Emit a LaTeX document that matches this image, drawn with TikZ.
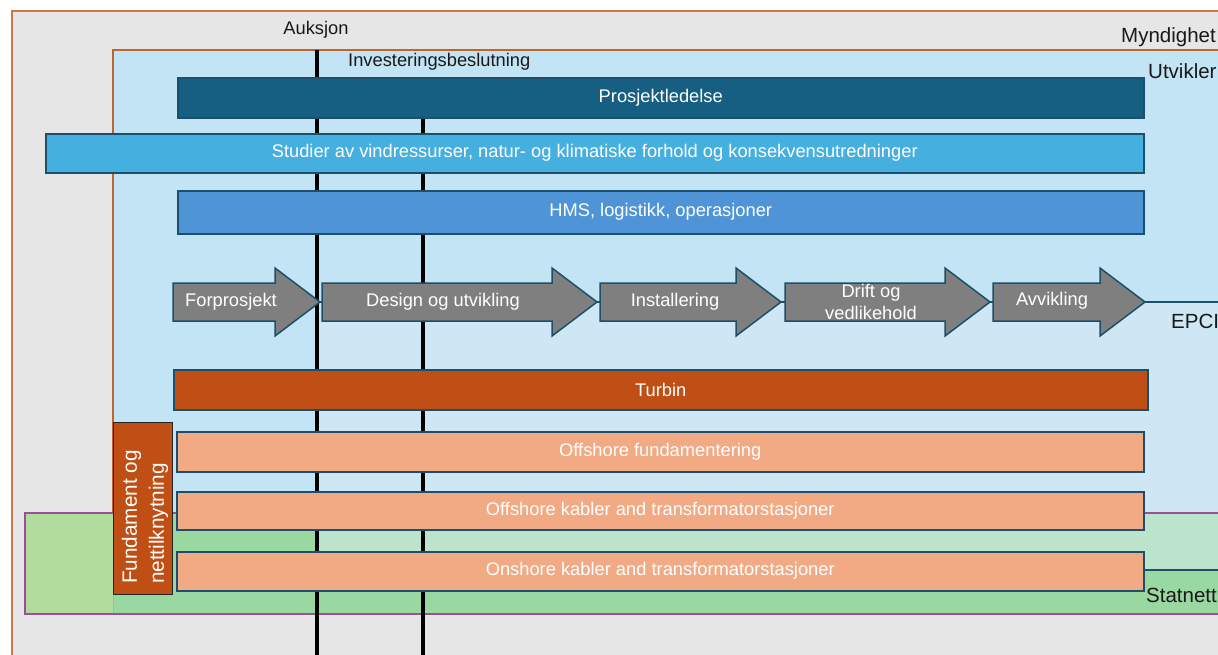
\documentclass[tikz,border=0pt]{standalone}
\usepackage{fontspec}
\setmainfont{Liberation Sans}
\definecolor{bggray}{HTML}{E6E6E6}
\definecolor{frameorange}{HTML}{C87A4C}
\definecolor{utvorange}{HTML}{C0652E}
\definecolor{utvblue}{HTML}{C2E4F4}
\definecolor{epciblue}{HTML}{CFE6F4}
\definecolor{greenlight}{HTML}{B1DC9D}
\definecolor{greenmid}{HTML}{99D9A1}
\definecolor{greenpale}{HTML}{BCE4CC}
\definecolor{netpurple}{HTML}{9B4F9B}
\definecolor{barline}{HTML}{1E4F6A}
\definecolor{leadblue}{HTML}{165F82}
\definecolor{studyblue}{HTML}{45AFDF}
\definecolor{hmsblue}{HTML}{4F94D7}
\definecolor{stagegray}{HTML}{7F7F7F}
\definecolor{turbinred}{HTML}{C04F15}
\definecolor{peach}{HTML}{F2AA84}
\newcommand\stagearrow[3]{%
  \draw[stage] (#1,283) -- (#2,283) -- (#2,268) -- (#3,302) -- (#2,336) -- (#2,321) -- (#1,321) -- cycle;}
\begin{document}
\begin{tikzpicture}[x=1pt,y=-1pt,
  txt/.style={font=\fontsize{18.3}{22}\selectfont, inner sep=0pt},
  dark/.style={txt, text=black!90},
  role/.style={dark, anchor=west, font=\fontsize{20.5}{24}\selectfont},
  light/.style={txt, text=white},
  bar/.style={light, draw=barline, line width=1.5pt, anchor=north west},
  stage/.style={draw=barline, line width=1.5pt, fill=stagegray},
  milestone/.style={line width=4pt, black},
]
\useasboundingbox (0,0) rectangle (1218,654);
\clip (0,0) rectangle (1218,654);
\fill[white] (0,0) rectangle (1218,654);

% authorities
\draw[frameorange, line width=2pt, fill=bggray] (12,11) rectangle (1240,680);
\node[role] (myn) at (1121,37) {Myndighet};

% developer
\draw[utvorange, line width=1.2pt, fill=utvblue] (113,50) rectangle (1240,614);
\node[role] (utv) at (1148,71) {Utvikler};

% grid operator
\fill[greenmid] (25,513) rectangle (1240,614);
\fill[greenlight] (25,513) rectangle (113,614);
\draw[olive!55, line width=0.8pt] (113,513) -- (113,614);

% EPCI contractor
\fill[epciblue] (318,302) rectangle (1240,513);
\fill[greenpale] (318,513) rectangle (1240,570);
\draw[barline, line width=1.2pt] (1240,302) -- (318,302) -- (318,570) -- (1240,570);
\node[role] (epci) at (1171,321) {EPCI};

\draw[netpurple, line width=1.5pt] (25,513) rectangle (1240,614);
\node[role] (statnett) at (1146,595) {Statnett};

% milestones
\node[dark] (auksjon) at (316,30) {Auksjon};
\node[dark, anchor=west] (invest) at (348,62) {Investeringsbeslutning};
\coordinate (auktop) at (317,50);
\coordinate (aukbot) at (317,660);
\coordinate (invtop) at (423,80);
\coordinate (invbot) at (423,660);
\draw[milestone] (auktop) -- (aukbot);
\draw[milestone] (invtop) -- (invbot);

% activity bars
\node[bar, fill=leadblue, minimum width=966, minimum height=40] (lead) at (177,77) {Prosjektledelse};
\node[bar, fill=studyblue, minimum width=1098, minimum height=39] (study) at (45,133) {Studier av vindressurser, natur- og klimatiske forhold og konsekvensutredninger};
\node[bar, fill=hmsblue, minimum width=966, minimum height=43] (hms) at (177,190) {HMS, logistikk, operasjoner};

% project phases
\stagearrow{173}{275}{320}
\stagearrow{322}{552}{597}
\stagearrow{600}{736}{781}
\stagearrow{785}{945}{990}
\stagearrow{993}{1100}{1145}
\node[light] (forp) at (231,302) {Forprosjekt};
\node[light] (design) at (443,302) {Design og utvikling};
\node[light] (inst) at (675,302) {Installering};
\node[light, align=center] (drift) at (871,302) {Drift og\\vedlikehold};
\node[light] (avv) at (1052,301) {Avvikling};

% deliveries
\node[bar, fill=turbinred, minimum width=974, minimum height=40] (turbin) at (173,369) {Turbin};
\node[bar, fill=peach, minimum width=967, minimum height=40] (offfund) at (176,431) {Offshore fundamentering};
\node[bar, fill=peach, minimum width=967, minimum height=38] (offkab) at (176,491) {Offshore kabler and transformatorstasjoner};
\node[bar, fill=peach, minimum width=967, minimum height=39] (onkab) at (176,551) {Onshore kabler and transformatorstasjoner};

\node[draw=black!85, line width=1.2pt, fill=turbinred, minimum width=59, minimum height=172, anchor=north west, inner sep=0pt] (fund) at (113,422) {};
\node[rotate=90, anchor=west, inner sep=0pt, align=left, text=white, font=\fontsize{20.7}{27}\selectfont] (fundlbl) at (145,584) {Fundament og\\nettilknytning};
\end{tikzpicture}
\end{document}
